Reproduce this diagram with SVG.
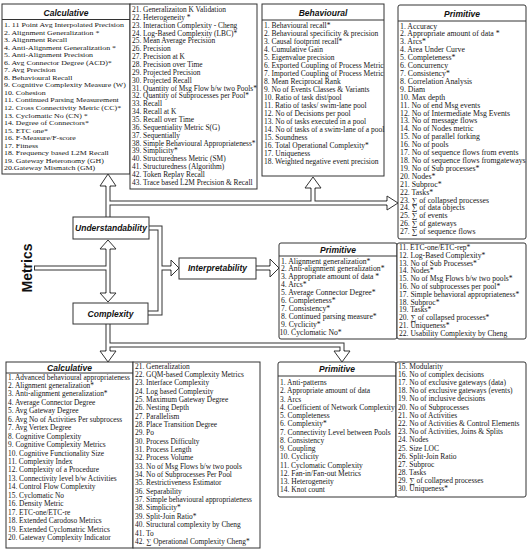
<svg xmlns="http://www.w3.org/2000/svg" width="527" height="550" viewBox="0 0 527 550">
<style>
.box{fill:#fff;stroke:#333;stroke-width:1}
.hd{font-family:"Liberation Sans",Arial,sans-serif;font-weight:bold;font-style:italic;font-size:8.5px;text-anchor:middle;fill:#111}
.it{font-family:"Liberation Serif","Times New Roman",serif;fill:#151515}
.sd{fill:none;stroke:#333;stroke-width:5}
.sw{fill:none;stroke:#fff;stroke-width:3}
.ah{fill:#fff;stroke:#333;stroke-width:1}
</style>
<rect width="527" height="550" fill="#fff"/>
<g id="connectors">
<path class="sd" d="M108,186V217M108,203H387M313,203V188M34,268H108M108,249V293M149,228H160V313H148M160,268H171M256,268H270M108,324V351M108,345H342V351"/>
<path class="sw" d="M108,186V217M108,203H387M313,203V188M35,268H108M108,249V293M149,228H160V313H148M160,268H171M256,268H270M108,324V351M108,345H342V351"/>
<path class="ah" d="M106,187V186H100L108,174L116,186H110V187"/>
<path class="ah" d="M311,189V188H305L313,177L321,188H315V189"/>
<path class="ah" d="M386,201H387V196L398,203L387,210V205H386"/>
<path class="ah" d="M106,250V249H100L108,240L116,249H110V250"/>
<path class="ah" d="M106,292V293H100L108,302L116,293H110V292"/>
<path class="ah" d="M170,266H171V260L179,268L171,276V270H170"/>
<path class="ah" d="M269,266H270V259L279,268L270,277V270H269"/>
<path class="ah" d="M106,350V351H100L108,362L116,351H110V350"/>
<path class="ah" d="M340,350V351H334L342,362L350,351H344V350"/>
</g>
<g id="metrics">
<text x="27" y="268" transform="rotate(-90 27 268)" dy="5" style="font-family:'Liberation Sans',Arial,sans-serif;font-weight:bold;font-size:14px;text-anchor:middle;fill:#111">Metrics</text>
</g>
<g id="understandability">
<rect class="box" x="73" y="217" width="76" height="22"/>
<text class="hd" x="111" y="231" font-size="8">Understandability</text>
</g>
<g id="interpretability">
<rect class="box" x="179" y="258" width="77" height="21"/>
<text class="hd" x="217.5" y="271">Interpretability</text>
</g>
<g id="complexity">
<rect class="box" x="73" y="303" width="75" height="21"/>
<text class="hd" x="110.5" y="316.5">Complexity</text>
</g>
<g id="calc-top">
<rect class="box" x="2" y="4" width="128" height="170"/>
<line x1="2" y1="19.5" x2="130" y2="19.5" stroke="#333"/>
<text class="hd" x="66" y="15.5">Calculative</text>
<text class="it" font-size="7.05" transform="matrix(1.12 0 0 1 -0.48 0)">
<tspan x="4" y="27">1. 11 Point Avg Interpolated Precision</tspan>
<tspan x="4" dy="7.55">2. Alignment Generalization *</tspan>
<tspan x="4" dy="7.55">3. Alignment Recall</tspan>
<tspan x="4" dy="7.55">4. Anti-Alignment Generalization *</tspan>
<tspan x="4" dy="7.55">5. Anti-Alignment Precision</tspan>
<tspan x="4" dy="7.55">6. Avg Connector Degree (ACD)*</tspan>
<tspan x="4" dy="7.55">7. Avg Precision</tspan>
<tspan x="4" dy="7.55">8. Behavioural Recall</tspan>
<tspan x="4" dy="7.55">9. Cognitive Complexity Measure (W)</tspan>
<tspan x="4" dy="7.55">10. Cohesion</tspan>
<tspan x="4" dy="7.55">11. Continued Parsing Measurement</tspan>
<tspan x="4" dy="7.55">12. Cross Connectivity Metric (CC)*</tspan>
<tspan x="4" dy="7.55">13. Cyclomatic No (CN) *</tspan>
<tspan x="4" dy="7.55">14. Degree of Connectors*</tspan>
<tspan x="4" dy="7.55">15. ETC one*</tspan>
<tspan x="4" dy="7.55">16. F-Measure/F-score</tspan>
<tspan x="4" dy="7.55">17. Fitness</tspan>
<tspan x="4" dy="7.55">18. Frequency based L2M Recall</tspan>
<tspan x="4" dy="7.55">19. Gateway Heteronomy (GH)</tspan>
<tspan x="4" dy="7.55">20.Gateway Mismatch (GM)</tspan>
</text>
<rect class="box" x="130" y="4" width="127" height="185"/>
<text class="it" font-size="7.4">
<tspan x="132" y="12">21. Generalizaiton K Validation</tspan>
<tspan x="132" dy="7.86">22. Heterogeneity *</tspan>
<tspan x="132" dy="7.86">23. Interaction Complexity - Cheng</tspan>
<tspan x="132" dy="7.86">24. Log-Based Complexity (LBC)*</tspan>
<tspan x="132" dy="7.86">25. Mean Average Precision</tspan>
<tspan x="132" dy="7.86">26. Precision</tspan>
<tspan x="132" dy="7.86">27. Precision at K</tspan>
<tspan x="132" dy="7.86">28. Precision over Time</tspan>
<tspan x="132" dy="7.86">29. Projected Precision</tspan>
<tspan x="132" dy="7.86">30. Projected Recall</tspan>
<tspan x="132" dy="7.86">31. Quantity of Msg Flow b/w two Pools*</tspan>
<tspan x="132" dy="7.86">32. Quantity of Subprocesses per Pool*</tspan>
<tspan x="132" dy="7.86">33. Recall</tspan>
<tspan x="132" dy="7.86">34. Recall at K</tspan>
<tspan x="132" dy="7.86">35. Recall over Time</tspan>
<tspan x="132" dy="7.86">36. Sequentiality Metric S(G)</tspan>
<tspan x="132" dy="7.86">37. Sequentially</tspan>
<tspan x="132" dy="7.86">38. Simple Behavioural Appropriateness*</tspan>
<tspan x="132" dy="7.86">39. Simplicity*</tspan>
<tspan x="132" dy="7.86">40. Structuredness Metric (SM)</tspan>
<tspan x="132" dy="7.86">41. Structuredness (Algorithm)</tspan>
<tspan x="132" dy="7.86">42. Token Replay Recall</tspan>
<tspan x="132" dy="7.86">43. Trace based L2M Precision &amp; Recall</tspan>
</text>
</g>
<g id="behavioural">
<rect class="box" x="262" y="4" width="122" height="172"/>
<line x1="262" y1="20" x2="384" y2="20" stroke="#333"/>
<text class="hd" x="323" y="16">Behavioural</text>
<text class="it" font-size="7.5">
<tspan x="264" y="27.5">1. Behavioural recall*</tspan>
<tspan x="264" dy="8.04">2. Behavioural specificity &amp; precision</tspan>
<tspan x="264" dy="8.04">3. Causal footprint recall*</tspan>
<tspan x="264" dy="8.04">4. Cumulative Gain</tspan>
<tspan x="264" dy="8.04">5. Eigenvalue precision</tspan>
<tspan x="264" dy="8.04">6. Exported Coupling of Process Metric</tspan>
<tspan x="264" dy="8.04">7. Imported Coupling of Process Metric</tspan>
<tspan x="264" dy="8.04">8. Mean Reciprocal Rank</tspan>
<tspan x="264" dy="8.04">9. No of Events Classes &amp; Variants</tspan>
<tspan x="264" dy="8.04">10. Ratio of task dist/pool</tspan>
<tspan x="264" dy="8.04">11. Ratio of tasks/ swim-lane pool</tspan>
<tspan x="264" dy="8.04">12. No of Decisions per pool</tspan>
<tspan x="264" dy="8.04">13. No of tasks executed in a pool</tspan>
<tspan x="264" dy="8.04">14. No of tasks of a swim-lane of a pool</tspan>
<tspan x="264" dy="8.04">15. Soundness</tspan>
<tspan x="264" dy="8.04">16. Total Operational Complexity*</tspan>
<tspan x="264" dy="8.04">17. Uniqueness</tspan>
<tspan x="264" dy="8.04">18. Weighted negative event precision</tspan>
</text>
</g>
<g id="primitive-top">
<rect class="box" x="398" y="5" width="128" height="234" rx="2"/>
<line x1="398" y1="21" x2="526" y2="21" stroke="#333"/>
<text class="hd" x="462" y="17">Primitive</text>
<text class="it" font-size="7.8">
<tspan x="400" y="28.5">1. Accuracy</tspan>
<tspan x="400" dy="7.91">2. Appropriate amount of data *</tspan>
<tspan x="400" dy="7.91">3. Arcs*</tspan>
<tspan x="400" dy="7.91">4. Area Under Curve</tspan>
<tspan x="400" dy="7.91">5. Completeness*</tspan>
<tspan x="400" dy="7.91">6. Concurrency</tspan>
<tspan x="400" dy="7.91">7. Consistency*</tspan>
<tspan x="400" dy="7.91">8. Correlation Analysis</tspan>
<tspan x="400" dy="7.91">9. Diam</tspan>
<tspan x="400" dy="7.91">10. Max depth</tspan>
<tspan x="400" dy="7.91">11. No of end Msg events</tspan>
<tspan x="400" dy="7.91">12. No of Intermediate Msg Events</tspan>
<tspan x="400" dy="7.91">13. No of message flows</tspan>
<tspan x="400" dy="7.91">14. No of Nodes metric</tspan>
<tspan x="400" dy="7.91">15. No of parallel forking</tspan>
<tspan x="400" dy="7.91">16. No of pools</tspan>
<tspan x="400" dy="7.91">17. No of sequence flows from events</tspan>
<tspan x="400" dy="7.91">18. No of sequence flows fromgateways</tspan>
<tspan x="400" dy="7.91">19. No of Sub processes*</tspan>
<tspan x="400" dy="7.91">20. Nodes*</tspan>
<tspan x="400" dy="7.91">21. Subproc*</tspan>
<tspan x="400" dy="7.91">22. Tasks*</tspan>
<tspan x="400" dy="7.91">23. ∑ of collapsed processes</tspan>
<tspan x="400" dy="7.91">24. ∑ of data objects</tspan>
<tspan x="400" dy="7.91">25. ∑ of events</tspan>
<tspan x="400" dy="7.91">26. ∑ of gateways</tspan>
<tspan x="400" dy="7.91">27. ∑ of sequence flows</tspan>
</text>
</g>
<g id="primitive-mid">
<rect class="box" x="279" y="243" width="118" height="96" rx="2"/>
<line x1="279" y1="256" x2="397" y2="256" stroke="#333"/>
<text class="hd" x="338" y="253">Primitive</text>
<text class="it" font-size="7.7">
<tspan x="281" y="263.5">1. Alignment generalization*</tspan>
<tspan x="281" dy="7.9">2. Anti-alignment generalization*</tspan>
<tspan x="281" dy="7.9">3. Appropriate amount of data *</tspan>
<tspan x="281" dy="7.9">4. Arcs*</tspan>
<tspan x="281" dy="7.9">5. Average Connector Degree*</tspan>
<tspan x="281" dy="7.9">6. Completeness*</tspan>
<tspan x="281" dy="7.9">7. Consistency*</tspan>
<tspan x="281" dy="7.9">8. Continued parsing measure*</tspan>
<tspan x="281" dy="7.9">9. Cyclicity*</tspan>
<tspan x="279.5" dy="7.9">10. Cyclomatic No*</tspan>
</text>
<rect class="box" x="397" y="243" width="129" height="96" rx="2"/>
<text class="it" font-size="7.6">
<tspan x="399" y="250">11. ETC-one/ETC-rep*</tspan>
<tspan x="399" dy="7.8">12. Log-Based Complexity*</tspan>
<tspan x="399" dy="7.8">13. No of Sub Processes*</tspan>
<tspan x="399" dy="7.8">14. Nodes*</tspan>
<tspan x="399" dy="7.8">15. No of Msg Flows b/w two pools*</tspan>
<tspan x="399" dy="7.8">16. No of subprocesses per pool*</tspan>
<tspan x="399" dy="7.8">17. Simple behavioral appropriateness*</tspan>
<tspan x="399" dy="7.8">18. Subproc*</tspan>
<tspan x="399" dy="7.8">19. Tasks*</tspan>
<tspan x="399" dy="7.8">20. ∑ of collapsed processes*</tspan>
<tspan x="399" dy="7.8">21. Uniqueness*</tspan>
<tspan x="399" dy="7.8">22. Usability Complexity by Cheng</tspan>
</text>
</g>
<g id="calc-bottom">
<rect class="box" x="6" y="362" width="127" height="186"/>
<line x1="6" y1="373" x2="133" y2="373" stroke="#333"/>
<text class="hd" x="69.5" y="370.5">Calculative</text>
<text class="it" font-size="7.4">
<tspan x="8" y="379.5">1. Advanced behavioural appropriateness</tspan>
<tspan x="8" dy="8.45">2. Alignment generalization*</tspan>
<tspan x="8" dy="8.45">3. Anti-alignment generalization*</tspan>
<tspan x="8" dy="8.45">4. Average Connector Degree</tspan>
<tspan x="8" dy="8.45">5. Avg Gateway Degree</tspan>
<tspan x="8" dy="8.45">6. Avg No of Activities Per subprocess</tspan>
<tspan x="8" dy="8.45">7. Avg Vertex Degree</tspan>
<tspan x="8" dy="8.45">8. Cognitive Complexity</tspan>
<tspan x="8" dy="8.45">9. Cognitive Complexity Metrics</tspan>
<tspan x="8" dy="8.45">10. Cognitive Functionality Size</tspan>
<tspan x="8" dy="8.45">11. Complexity Index</tspan>
<tspan x="8" dy="8.45">12. Complexity of a Procedure</tspan>
<tspan x="8" dy="8.45">13. Connectivity level b/w Activities</tspan>
<tspan x="8" dy="8.45">14. Control Flow Complexity</tspan>
<tspan x="8" dy="8.45">15. Cyclomatic No</tspan>
<tspan x="8" dy="8.45">16. Density Metric</tspan>
<tspan x="8" dy="8.45">17. ETC-one/ETC-re</tspan>
<tspan x="8" dy="8.45">18. Extended Carodoso Metrics</tspan>
<tspan x="8" dy="8.45">19. Extended Cyclomatric Metrics</tspan>
<tspan x="8" dy="8.45">20. Gateway Complexity Indicator</tspan>
</text>
<rect class="box" x="133" y="362" width="127" height="186"/>
<text class="it" font-size="7.4">
<tspan x="135" y="368.5">21. Generalization</tspan>
<tspan x="135" dy="8.35">22. GQM-based Complexity Metrics</tspan>
<tspan x="135" dy="8.35">23. Interface Complexity</tspan>
<tspan x="135" dy="8.35">24. Log based Complexity</tspan>
<tspan x="135" dy="8.35">25. Maximum Gateway Degree</tspan>
<tspan x="135" dy="8.35">26. Nesting Depth</tspan>
<tspan x="135" dy="8.35">27. Parallelism</tspan>
<tspan x="135" dy="8.35">28. Place Transition Degree</tspan>
<tspan x="135" dy="8.35">29. Po</tspan>
<tspan x="135" dy="8.35">30. Process Difficulty</tspan>
<tspan x="135" dy="8.35">31. Process Length</tspan>
<tspan x="135" dy="8.35">32. Process Volume</tspan>
<tspan x="135" dy="8.35">33. No of Msg Flows b/w two pools</tspan>
<tspan x="135" dy="8.35">34. No of Subprocesses Per Pool</tspan>
<tspan x="135" dy="8.35">35. Restrictiveness Estimator</tspan>
<tspan x="135" dy="8.35">36. Separability</tspan>
<tspan x="135" dy="8.35">37. Simple behavioural appropriateness</tspan>
<tspan x="135" dy="8.35">38. Simplicity*</tspan>
<tspan x="135" dy="8.35">39. Split-Join Ratio*</tspan>
<tspan x="135" dy="8.35">40. Structural complexity by Cheng</tspan>
<tspan x="135" dy="8.35">41. To</tspan>
<tspan x="135" dy="8.35">42. ∑ Operational Complexity Cheng*</tspan>
</text>
</g>
<g id="primitive-bottom">
<rect class="box" x="278" y="362" width="118" height="135" rx="2"/>
<line x1="278" y1="376" x2="396" y2="376" stroke="#333"/>
<text class="hd" x="337" y="372">Primitive</text>
<text class="it" font-size="7.5">
<tspan x="280" y="385">1. Anti-patterns</tspan>
<tspan x="280" dy="8.25">2. Appropriate amount of data</tspan>
<tspan x="280" dy="8.25">3. Arcs</tspan>
<tspan x="280" dy="8.25">4. Coefficient of Network Complexity</tspan>
<tspan x="280" dy="8.25">5. Completeness</tspan>
<tspan x="280" dy="8.25">6. Complexity*</tspan>
<tspan x="280" dy="8.25">7. Connectivity Level between Pools</tspan>
<tspan x="280" dy="8.25">8. Consistency</tspan>
<tspan x="280" dy="8.25">9. Coupling</tspan>
<tspan x="280" dy="8.25">10. Cyclicity</tspan>
<tspan x="280" dy="8.25">11. Cyclomatic Complexity</tspan>
<tspan x="280" dy="8.25">12. Fan-in/Fan-out Metrics</tspan>
<tspan x="280" dy="8.25">13. Heterogeneity</tspan>
<tspan x="280" dy="8.25">14. Knot count</tspan>
</text>
<rect class="box" x="396" y="362" width="130" height="135" rx="2"/>
<text class="it" font-size="7.5">
<tspan x="398" y="368.5">15. Modularity</tspan>
<tspan x="398" dy="8.2">16. No of complex decisions</tspan>
<tspan x="398" dy="8.2">17. No of exclusive gateways (data)</tspan>
<tspan x="398" dy="8.2">18. No of exclusive gateways (events)</tspan>
<tspan x="398" dy="8.2">19. No of inclusive decisions</tspan>
<tspan x="398" dy="8.2">20. No of Subprocesses</tspan>
<tspan x="398" dy="8.2">21. No of Activities</tspan>
<tspan x="398" dy="8.2">22. No of Activities &amp; Control Elements</tspan>
<tspan x="398" dy="8.2">23. No of Activities, Joins &amp; Splits</tspan>
<tspan x="398" dy="8.2">24. Nodes</tspan>
<tspan x="398" dy="8.2">25. Size LOC</tspan>
<tspan x="398" dy="8.2">26. Split-Join Ratio</tspan>
<tspan x="398" dy="8.2">27. Subproc</tspan>
<tspan x="398" dy="8.2">28. Tasks</tspan>
<tspan x="398" dy="8.2">29. ∑ of collapsed processes</tspan>
<tspan x="398" dy="8.2">30. Uniqueness*</tspan>
</text>
</g>
</svg>
